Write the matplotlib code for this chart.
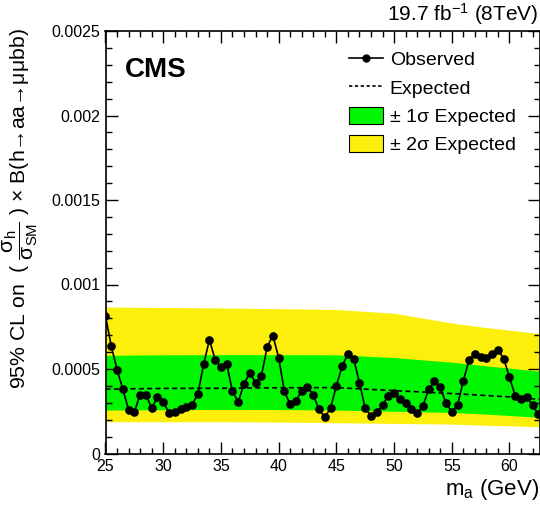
import matplotlib
matplotlib.use('Agg')
import matplotlib.pyplot as plt
import numpy as np
from matplotlib.lines import Line2D
from matplotlib.patches import Patch
from matplotlib.ticker import MultipleLocator, FuncFormatter

plt.rcParams['font.family'] = ['Liberation Sans', 'DejaVu Sans']
plt.rcParams['mathtext.fontset'] = 'custom'
plt.rcParams['mathtext.rm'] = 'Liberation Sans'
plt.rcParams['mathtext.it'] = 'Liberation Sans'
plt.rcParams['mathtext.bf'] = 'Liberation Sans:bold'

# observed limit, scan of m_a in 0.5 GeV steps
mass = np.arange(25, 63, 0.5)
observed = [0.000813, 0.000636, 0.000497, 0.000381, 0.000259, 0.000245, 0.000349, 0.000349,
            0.000267, 0.000333, 0.000306, 0.000241, 0.000243, 0.000261, 0.000276, 0.000288,
            0.000353, 0.000527, 0.000672, 0.000556, 0.000511, 0.000530, 0.000367, 0.000306,
            0.000412, 0.000477, 0.000418, 0.000456, 0.000630, 0.000698, 0.000568, 0.000367,
            0.000292, 0.000312, 0.000371, 0.000394, 0.000345, 0.000261, 0.000215, 0.000269,
            0.000400, 0.000517, 0.000589, 0.000560, 0.000420, 0.000267, 0.000223, 0.000245,
            0.000286, 0.000343, 0.000359, 0.000322, 0.000300, 0.000263, 0.000237, 0.000282,
            0.000379, 0.000428, 0.000391, 0.000298, 0.000247, 0.000288, 0.000428, 0.000556,
            0.000591, 0.000570, 0.000568, 0.000586, 0.000615, 0.000562, 0.000450, 0.000341,
            0.000322, 0.000334, 0.000286, 0.000231]

# expected limit and bands
band_mass = [25, 30, 35, 40, 45, 50, 55, 57.5, 60, 62.6]
expected = [0.000381, 0.000385, 0.000386, 0.000389, 0.000390, 0.000372, 0.000355, 0.000345, 0.000335, 0.000320]
one_up = [0.000581, 0.000584, 0.000585, 0.000585, 0.000584, 0.000568, 0.000540, 0.000522, 0.000505, 0.000487]
one_dn = [0.000257, 0.000259, 0.000261, 0.000260, 0.000257, 0.000250, 0.000243, 0.000235, 0.000225, 0.000214]
two_up = [0.000867, 0.000864, 0.000861, 0.000857, 0.000852, 0.000830, 0.000772, 0.000749, 0.000730, 0.000710]
two_dn = [0.000188, 0.000188, 0.000188, 0.000186, 0.000182, 0.000178, 0.000174, 0.000168, 0.000164, 0.000158]

green = '#00f500'
yellow = '#fcef0c'

fig = plt.figure(figsize=(5.4, 5.05), dpi=100)
ax = fig.add_axes([105.5/540, 1 - 453.5/505, 434/540, 422.5/505])

ax.fill_between(band_mass, two_dn, two_up, color=yellow, lw=0)
ax.fill_between(band_mass, one_dn, one_up, color=green, lw=0)
ax.plot(band_mass, expected, color='black', lw=1.2, ls=(0, (3, 2)))
ax.plot(mass, observed, color='black', lw=1.2, marker='o', ms=5.2, clip_on=True)

ax.set_xlim(25, 62.6)
ax.set_ylim(0, 0.0025)
ax.xaxis.set_major_locator(MultipleLocator(5))
ax.xaxis.set_minor_locator(MultipleLocator(1))
ax.yaxis.set_major_locator(MultipleLocator(0.0005))
ax.yaxis.set_minor_locator(MultipleLocator(0.0001))
ax.yaxis.set_major_formatter(FuncFormatter(lambda v, p: '%g' % round(v, 6)))
ax.tick_params(which='both', direction='in', top=True, right=True, labelsize=11.5, width=1)
ax.tick_params(which='major', length=8.5, pad=4)
ax.tick_params(which='minor', length=4.3)
for s in ax.spines.values():
    s.set_linewidth(1.2)

ax.set_xlabel(r'm$_{\mathrm{a}}$ (GeV)', fontsize=16, loc='right', labelpad=2)
ax.set_ylabel(r'95% CL on  ( $\dfrac{\sigma_{h}}{\sigma_{SM}}$ ) × B(h→aa→μμbb)',
              fontsize=15.3, loc='top', labelpad=0)
ax.yaxis.set_label_coords(-65/434, 1.006)

fig.text(0.998, 1 - 14/505, r'19.7 fb$^{-1}$ (8TeV)', fontsize=15, ha='right', va='center')
ax.text(125/540, 1 - 70/505, 'CMS', transform=fig.transFigure, fontsize=20, fontweight='bold',
        ha='left', va='center')

handles = [Line2D([], [], color='black', lw=1.2, marker='o', ms=5),
           Line2D([], [], color='black', lw=1.2, ls=(0, (2, 1.5))),
           Patch(facecolor=green, edgecolor='black', lw=0.8),
           Patch(facecolor=yellow, edgecolor='black', lw=0.8)]
labels = ['Observed', 'Expected', '± 1σ Expected', '± 2σ Expected']
fig.legend(handles, labels, loc='upper left', bbox_to_anchor=(349/540, 1 - 50/505),
           frameon=False, fontsize=14, handlelength=1.75, handleheight=1.0, handletextpad=0.35,
           labelspacing=0.46, borderpad=0, borderaxespad=0)

plt.savefig('out.png', dpi=100)
